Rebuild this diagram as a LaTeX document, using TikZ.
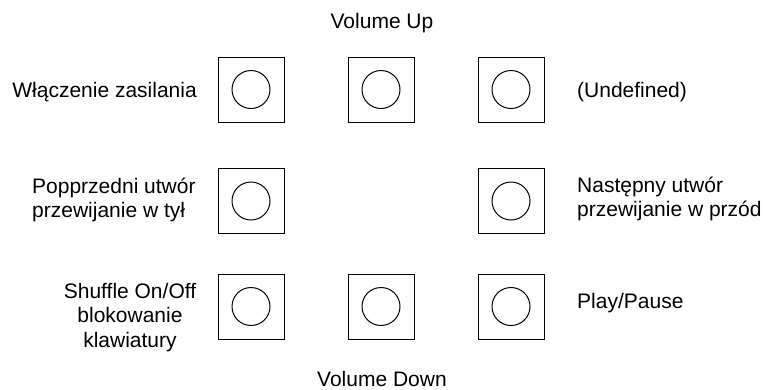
\documentclass[tikz,border=0pt]{standalone}
\usepackage{fontspec}
\setmainfont{Liberation Sans}
\begin{document}
\begin{tikzpicture}[x=1pt,y=-1pt,
  btnbox/.style={draw,line width=1pt,minimum width=66pt,minimum height=65pt,inner sep=0pt},
  btncirc/.style={draw,line width=1pt,circle,minimum size=38pt,inner sep=0pt},
  lbl/.style={inner sep=0pt,font=\fontsize{21}{24.5}\selectfont}]
\useasboundingbox (0,0) rectangle (765,389);
% buttons
\node[btnbox] (b11) at (251,89.5) {};
\node[btnbox] (b12) at (381,89.5) {};
\node[btnbox] (b13) at (511,89.5) {};
\node[btnbox] (b21) at (251,201) {};
\node[btnbox] (b23) at (511,201) {};
\node[btnbox] (b31) at (251,306.5) {};
\node[btnbox] (b32) at (381,306.5) {};
\node[btnbox] (b33) at (511,306.5) {};
\foreach \b in {b11,b12,b13,b21,b23,b31,b32,b33}
  \node[btncirc] (c\b) at (\b) {};
% labels
\node[lbl,anchor=base] (vup) at (382,28) {Volume Up};
\node[lbl,anchor=base] (vdown) at (382,386) {Volume Down};
\node[lbl,anchor=base east] (power) at (197,97) {Włączenie zasilania};
\node[lbl,anchor=base west] (undef) at (577,97) {(Undefined)};
\node[lbl,anchor=base west,align=left] (prev) at (32,217.5) {Popprzedni utwór\\przewijanie w tył};
\node[lbl,anchor=base west,align=left] (next) at (577,216.5) {Następny utwór\\przewijanie w przód};
\node[lbl,anchor=base,align=center] (shuffle) at (130,347) {Shuffle On/Off\\blokowanie\\klawiatury};
\node[lbl,anchor=base west] (play) at (577,308) {Play/Pause};
\end{tikzpicture}
\end{document}
